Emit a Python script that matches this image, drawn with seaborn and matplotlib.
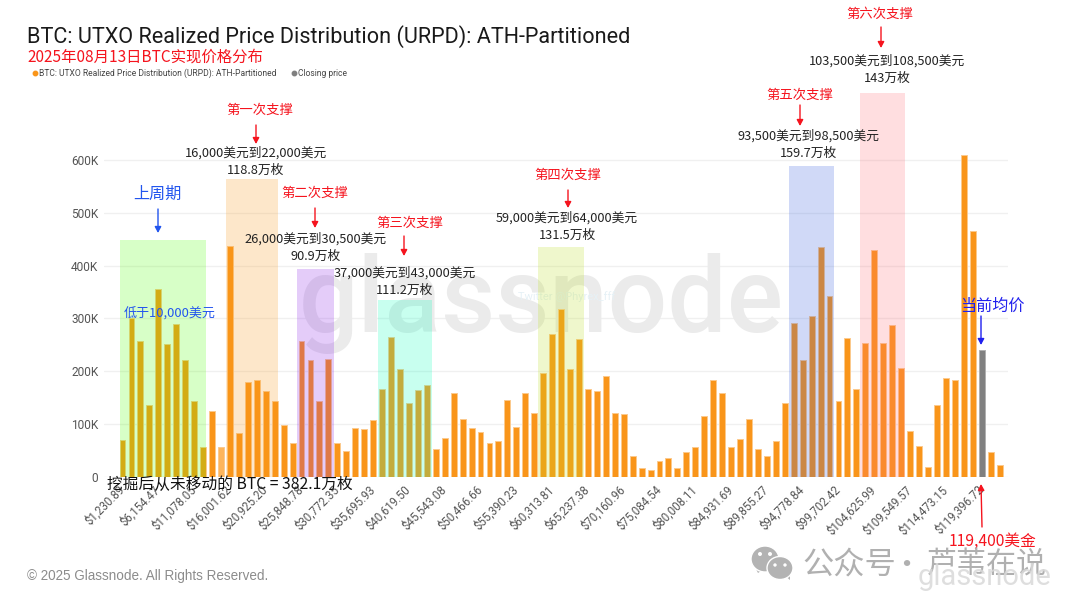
import matplotlib;
matplotlib.use('Agg');

import matplotlib.pyplot as plt;
import pandas as pd;
import seaborn as sns;

from matplotlib.lines import Line2D;
from matplotlib.patches import Ellipse, Polygon;

supply_k = [
    70, 300, 257, 135, 356, 251, 289, 222, 143, 56,
    124, 56, 437, 82, 179, 184, 162, 143, 98, 64,
    258, 222, 143, 224, 64, 48, 92, 90, 108, 167,
    265, 204, 139, 165, 174, 53, 73, 158, 109, 92,
    85, 64, 68, 145, 94, 159, 121, 196, 271, 317,
    204, 261, 167, 162, 191, 120, 119, 40, 16, 13,
    29, 35, 16, 46, 56, 116, 183, 159, 56, 71,
    109, 52, 39, 68, 140, 291, 222, 305, 436, 343,
    143, 263, 167, 253, 430, 253, 288, 207, 87, 59,
    18, 135, 188, 183, 610, 465, 241, 46, 23,
];
closing_bin = 96;
faded_bin = 11;

tick_labels = [
    '$1,230.89', '$6,154.47', '$11,078.05', '$16,001.62', '$20,925.20',
    '$25,848.78', '$30,772.35', '$35,695.93', '$40,619.50', '$45,543.08',
    '$50,466.66', '$55,390.23', '$60,313.81', '$65,237.38', '$70,160.96',
    '$75,084.54', '$80,008.11', '$84,931.69', '$89,855.27', '$94,778.84',
    '$99,702.42', '$104,625.99', '$109,549.57', '$114,473.15', '$119,396.72',
];
y_ticks = [0, 100, 200, 300, 400, 500, 600];
y_labels = ['0', '100K', '200K', '300K', '400K', '500K', '600K'];

band_start = [-0.3, 11.6, 19.5, 28.5, 46.4, 74.5, 82.4];
band_end = [9.35, 17.4, 23.6, 34.6, 51.6, 79.5, 87.4];
band_top_k = [449, 564, 393, 335, 436, 589, 727];
band_color = ['#4dff00', '#fa9612', '#8417e8', '#05ffba', '#badf1b', '#2956df', '#ff6972'];

W = 1080;
H = 608;

def fx (x): return x / W;
def fy (y): return 1 - y / H;

CJK = ['Noto Sans CJK SC', 'DejaVu Sans'];
RED = '#f5141e';
BLUE = '#2255ee';

is_database = pd.DataFrame({});
is_database['bin'] = list(range(len(supply_k)));
is_database['supply'] = supply_k;
is_database['kind'] = 'urpd';
is_database.loc[faded_bin, 'kind'] = 'faded';
is_database.loc[closing_bin, 'kind'] = 'closing';

sns.set_theme(style='white');
plt.rcParams['font.family'] = ['Roboto', 'DejaVu Sans'];

fig = plt.figure(figsize=(10.8, 6.08), dpi=100);
# axes box is placed so bin 0 and the 0 line sit where the reference has them
ax = fig.add_axes([fx(104), fy(476.7), fx(1008) - fx(104), fy(75.8) - fy(476.7)]);

sns.barplot(
    data=is_database,
    x='bin',
    y='supply',
    hue='kind',
    palette={'urpd': '#f9951a', 'faded': '#fdb55c', 'closing': '#808080'},
    dodge=False,
    legend=False,
    saturation=1,
    width=0.66,
    edgecolor='#fcc98c',
    linewidth=0.7,
    zorder=3,
    ax=ax,
);
for bar in ax.patches:
    if (bar.get_facecolor()[:3] == matplotlib.colors.to_rgb('#808080')):
        bar.set_edgecolor('#b0b0b0');

for start, end, top, color in zip(band_start, band_end, band_top_k, band_color):
    ax.fill_between([start, end], 0, top, color=color, alpha=0.22, linewidth=0, zorder=4);

ax.set_xlim(-2.07, 98.94);
ax.set_ylim(0, 760);
ax.set_xticks(list(range(0, 97, 4)));
ax.set_xticklabels(tick_labels, rotation=45, ha='right', va='center', rotation_mode='anchor', fontsize=8.3, color='#555555');
ax.set_yticks(y_ticks);
ax.set_yticklabels(y_labels, fontsize=8.6, color='#555555');
ax.tick_params(axis='x', length=0, pad=8);
ax.tick_params(axis='y', length=0, pad=4);
ax.set_xlabel('');
ax.set_ylabel('');
ax.patch.set_alpha(0);
for side in ax.spines.values(): side.set_visible(False);
ax.grid(True, axis='y', color='#f0f0f0', linewidth=1, zorder=1);
ax.set_axisbelow(True);

# watermarks
ax.text(fx(299), fy(332), 'glassnode', transform=fig.transFigure, fontsize=75.5, fontweight='medium', color='#ebebeb', ha='left', va='baseline', zorder=2);
ax.text(fx(567), fy(297), 'Twitter @Phyrex_fff', transform=fig.transFigure, fontsize=8, color='#e6f1f6', ha='center', va='center', zorder=2);

# headings
fig.text(fx(27), fy(37), 'BTC: UTXO Realized Price Distribution (URPD): ATH-Partitioned', fontsize=15.6, color='#1a1a1a', family='Roboto', va='center');
fig.text(fx(27), fy(57), '2025年08月13日BTC实现价格分布', fontsize=11.1, color=RED, family=CJK, va='center');

is_legend = [
    Line2D([], [], linestyle='', marker='o', markersize=3.2, color='#f9951a', label='BTC: UTXO Realized Price Distribution (URPD): ATH-Partitioned'),
    Line2D([], [], linestyle='', marker='o', markersize=3.2, color='#808080', label='Closing price'),
];
fig.legend(
    handles=is_legend,
    loc='center left',
    bbox_to_anchor=(fx(22), fy(73)),
    ncol=2,
    frameon=False,
    handletextpad=-0.5,
    columnspacing=1.0,
    labelcolor='#444444',
    borderpad=0,
    prop={'family': 'Roboto', 'size': 6.15},
);

red_argument = {'fontsize': 9.6, 'color': RED, 'family': CJK, 'ha': 'center', 'va': 'center'};
black_argument = {'fontsize': 9.2, 'color': '#222222', 'family': CJK, 'ha': 'center', 'va': 'center'};

is_support = [
    ('第一次支撑', 260, 110, 256, 125, 144),
    ('第二次支撑', 315, 193, 315, 208, 228),
    ('第三次支撑', 410, 223, 404, 236, 256),
    ('第四次支撑', 568, 175, 568, 190, 208),
    ('第五次支撑', 800, 95, 800, 105, 126),
    ('第六次支撑', 880, 14, 881, 27, 48),
];
for text, tx, ty, ax_x, y0, y1 in is_support:
    fig.text(fx(tx), fy(ty), text, **red_argument);
    fig.add_artist(plt.Annotation(
        '',
        xy=(fx(ax_x), fy(y1)),
        xytext=(fx(ax_x), fy(y0)),
        xycoords='figure fraction',
        textcoords='figure fraction',
        arrowprops={'arrowstyle': '-|>,head_width=0.16,head_length=0.3', 'color': RED, 'lw': 1, 'shrinkA': 0, 'shrinkB': 0},
    ));

is_range = [
    ('16,000美元到22,000美元', '118.8万枚', 256, 153, 170),
    ('26,000美元到30,500美元', '90.9万枚', 316, 239, 256),
    ('37,000美元到43,000美元', '111.2万枚', 405, 273, 290),
    ('59,000美元到64,000美元', '131.5万枚', 567, 218, 235),
    ('93,500美元到98,500美元', '159.7万枚', 808, 136, 153),
    ('103,500美元到108,500美元', '143万枚', 887, 61, 78),
];
for text, amount, tx, y0, y1 in is_range:
    fig.text(fx(tx), fy(y0), text, **black_argument);
    fig.text(fx(tx), fy(y1), amount, **black_argument);

# last cycle, closing price and the never-moved note
fig.text(fx(157), fy(194), '上周期', fontsize=11.6, color=BLUE, family=CJK, ha='center', va='center');
fig.text(fx(170), fy(314), '低于10,000美元', fontsize=9.4, color=BLUE, family=CJK, ha='center', va='center');
fig.text(fx(992), fy(306), '当前均价', fontsize=11.6, color='#2020ee', family=CJK, ha='center', va='center');
fig.text(fx(993), fy(541), '119,400美金', fontsize=11.3, color=RED, family=CJK, ha='center', va='center');
fig.text(fx(107), fy(484), '挖掘后从未移动的 BTC = 382.1万枚', fontsize=11.3, color='#111111', family=CJK, ha='left', va='center');

is_arrow = [
    (158, 209, 158, 233, BLUE),
    (981, 316, 981, 345, '#2020ee'),
    (982, 527, 981, 484, RED),
];
for x0, y0, x1, y1, color in is_arrow:
    fig.add_artist(plt.Annotation(
        '',
        xy=(fx(x1), fy(y1)),
        xytext=(fx(x0), fy(y0)),
        xycoords='figure fraction',
        textcoords='figure fraction',
        arrowprops={'arrowstyle': '-|>,head_width=0.16,head_length=0.3', 'color': color, 'lw': 1, 'shrinkA': 0, 'shrinkB': 0},
    ));

fig.text(fx(27), fy(576), '© 2025 Glassnode. All Rights Reserved.', fontsize=9.75, color='#8c8c8c', family='Liberation Sans', va='center');

# wechat mark bottom right
def add_bubble (cx, cy, rx, ry, tail):
    fig.add_artist(Polygon([(fx(a), fy(b)) for a, b in tail], transform=fig.transFigure, color='#b3b3b3', linewidth=0));
    fig.add_artist(Ellipse((fx(cx), fy(cy)), 2 * rx / W, 2 * ry / H, transform=fig.transFigure, facecolor='#b3b3b3', edgecolor='white', linewidth=1));

def add_eye (cx, cy, r):
    fig.add_artist(Ellipse((fx(cx), fy(cy)), 2 * r / W, 2 * r / H, transform=fig.transFigure, color='white', linewidth=0));

add_bubble(765, 559, 14, 13, [(754, 565), (758, 573), (764, 569)]);
add_eye(760, 554, 2);
add_eye(770, 554, 2);
add_bubble(780, 568, 13, 11.5, [(784, 575), (790, 580), (790, 572)]);
add_eye(775, 565, 1.7);
add_eye(785, 565, 1.7);

fig.text(fx(802), fy(565), '公众号', fontsize=22.5, color='#b0b0b0', family=CJK, ha='left', va='center');
fig.text(fx(906), fy(565), '·', fontsize=21.8, color='#b0b0b0', family=CJK, ha='center', va='center');
fig.text(fx(927), fy(565), '芦苇在说', fontsize=21.6, color='#b0b0b0', family=CJK, ha='left', va='center');
fig.text(fx(918), fy(585), 'glassnode', fontsize=21, color='#d9d9d9', alpha=0.85, family='Roboto', ha='left', va='baseline');

fig.savefig('out.png', dpi=100);
